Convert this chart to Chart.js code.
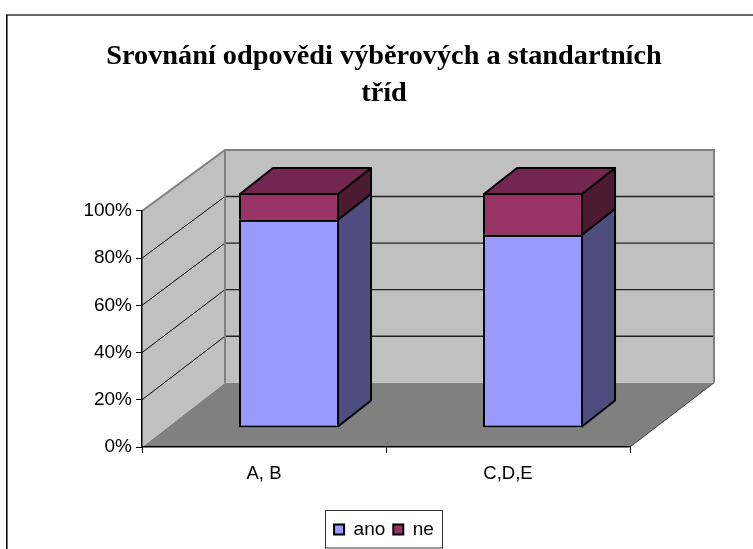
<!DOCTYPE html>
<html>
<head>
<meta charset="utf-8">
<script src="https://cdn.jsdelivr.net/npm/chart.js@4"></script>
<style>html,body{margin:0;padding:0;background:#fff}canvas{display:block}</style>
</head>
<body>
<canvas id="c" width="753" height="549"></canvas>
<script>
const categories = ['A, B', 'C,D,E'];
const anoValues = [88.6, 82.2];
const neValues = [11.4, 17.8];
const titleLines = ['Srovnání odpovědi výběrových a standartních', 'tříd'];

const WALL_DX = 83, WALL_DY = 64.2, WALL_SCALE = 0.9865;
const BAR_DX = 25, BAR_DY = 19.5, SIDE_DX = 33, SIDE_DY = 26;
const sideColors = ['#4D4D80', '#4D1A33'];
const topColor = '#732650';

function poly(ctx, pts, fill, stroke, lw) {
  ctx.beginPath();
  pts.forEach((p, i) => i ? ctx.lineTo(p[0], p[1]) : ctx.moveTo(p[0], p[1]));
  ctx.closePath();
  if (fill) { ctx.fillStyle = fill; ctx.fill(); }
  if (stroke) { ctx.strokeStyle = stroke; ctx.lineWidth = lw; ctx.lineJoin = 'round'; ctx.stroke(); }
}

const scene = {
  id: 'scene',
  beforeDraw(chart) {
    const ctx = chart.ctx, a = chart.chartArea, y = chart.scales.y;
    ctx.save();
    ctx.fillStyle = '#fff';
    ctx.fillRect(0, 0, chart.width, chart.height);
    ctx.lineWidth = 1.5;
    ctx.strokeStyle = '#333';
    ctx.beginPath();
    ctx.moveTo(6, 15);
    ctx.lineTo(chart.width + 1, 15);
    ctx.stroke();
    ctx.strokeStyle = '#000';
    ctx.beginPath();
    ctx.moveTo(6.8, chart.height + 1);
    ctx.lineTo(6.8, 15);
    ctx.stroke();

    const y0 = y.getPixelForValue(0), y1 = y.getPixelForValue(100);
    const backY = v => y0 - WALL_DY - (y0 - y.getPixelForValue(v)) * WALL_SCALE;
    const bl = a.left + WALL_DX, br = a.right + WALL_DX + 1;
    // floor
    poly(ctx, [[a.left, y0], [a.right, y0], [br, backY(0)], [bl, backY(0)]], '#808080');
    ctx.strokeStyle = '#404040'; ctx.lineWidth = 1;
    ctx.beginPath(); ctx.moveTo(a.right, y0); ctx.lineTo(br, backY(0)); ctx.stroke();
    // walls
    poly(ctx, [[a.left, y1], [bl, backY(100)], [bl, backY(0)], [a.left, y0]], '#C0C0C0');
    poly(ctx, [[bl, backY(100)], [br, backY(100)], [br, backY(0)], [bl, backY(0)]], '#C0C0C0');
    // gridlines
    y.ticks.forEach(t => {
      if (t.value === 0 || t.value === 100) return;
      const fy = y.getPixelForValue(t.value), by = backY(t.value);
      ctx.strokeStyle = '#000'; ctx.lineWidth = 1;
      ctx.beginPath(); ctx.moveTo(a.left, fy); ctx.lineTo(bl, by); ctx.stroke();
      ctx.strokeStyle = '#222'; ctx.lineWidth = 1.4;
      ctx.beginPath(); ctx.moveTo(bl, by); ctx.lineTo(br - 1, by); ctx.stroke();
    });
    // wall outlines
    ctx.strokeStyle = '#808080'; ctx.lineWidth = 2;
    ctx.beginPath();
    ctx.moveTo(a.left, y1); ctx.lineTo(bl, backY(100)); ctx.lineTo(br, backY(100)); ctx.lineTo(br, backY(0));
    ctx.moveTo(bl, backY(100)); ctx.lineTo(bl, backY(0));
    ctx.stroke();
    ctx.restore();
  },
  beforeDatasetsDraw(chart) {
    const ctx = chart.ctx;
    ctx.save();
    ctx.translate(BAR_DX, -BAR_DY);
    const metas = [chart.getDatasetMeta(0), chart.getDatasetMeta(1)];
    metas.forEach((m, i) => {
      m.data.forEach(el => {
        const p = el.getProps(['x', 'y', 'base', 'width'], true);
        const r = p.x + p.width / 2 - 1, top = p.y + (i === 1 ? 1 : 0), base = p.base - (i === 0 ? 1 : 0);
        poly(ctx, [[r, top], [r + SIDE_DX, top - SIDE_DY], [r + SIDE_DX, base - SIDE_DY], [r, base]], sideColors[i], '#000', 2);
        if (i === 1) {
          const l = p.x - p.width / 2 + 1;
          poly(ctx, [[l, top], [l + SIDE_DX, top - SIDE_DY], [r + SIDE_DX, top - SIDE_DY], [r, top]], topColor, '#000', 2);
        }
      });
    });
  },
  afterDatasetsDraw(chart) {
    const ctx = chart.ctx;
    // divider between the two stacked segments on the front face
    chart.getDatasetMeta(0).data.forEach(el => {
      const p = el.getProps(['x', 'y', 'width'], true);
      ctx.strokeStyle = '#000'; ctx.lineWidth = 2;
      ctx.beginPath();
      ctx.moveTo(p.x - p.width / 2, p.y + 1);
      ctx.lineTo(p.x + p.width / 2, p.y + 1);
      ctx.stroke();
    });
    ctx.restore();
  },
  afterDraw(chart) {
    const ctx = chart.ctx;
    ctx.save();
    ctx.strokeStyle = '#333'; ctx.lineWidth = 1;
    ctx.strokeRect(325.5, 510.5, 117, 37.5);
    ctx.restore();
  }
};

new Chart(document.getElementById('c'), {
  type: 'bar',
  data: {
    labels: categories,
    datasets: [
      { label: 'ano', data: anoValues, backgroundColor: '#9999FF', borderColor: '#000', borderWidth: 2, borderSkipped: false, yAxisID: 'yBar', stack: 's' },
      { label: 'ne', data: neValues, backgroundColor: '#993366', borderColor: '#000', borderWidth: 2, borderSkipped: 'bottom', yAxisID: 'yBar', stack: 's' }
    ]
  },
  plugins: [scene],
  options: {
    responsive: false,
    animation: false,
    devicePixelRatio: 1,
    layout: { padding: { left: 80, right: 65, top: 0, bottom: 0 } },
    barPercentage: 0.41,
    categoryPercentage: 1,
    scales: {
      x: {
        stacked: true,
        afterFit(s) { s.height = 65; },
        grid: { drawOnChartArea: false, color: '#000', tickLength: 6, offset: true },
        border: { color: '#000', width: 1.5 },
        ticks: { color: '#000', font: { family: 'Liberation Sans', size: 18.5 }, padding: 10 }
      },
      y: {
        min: 0, max: 100,
        afterFit(s) { s.width = 62; },
        ticks: { stepSize: 20, callback: v => v + '%', color: '#000', font: { family: 'Liberation Sans', size: 19 }, padding: 4 },
        grid: { drawOnChartArea: false, color: '#000', tickLength: 6 },
        border: { color: '#000', width: 1.5 }
      },
      yBar: {
        position: 'right',
        stacked: true, min: 0, max: 100.64,
        afterFit(s) { s.width = 58; },
        ticks: { display: false },
        grid: { display: false },
        border: { display: false }
      }
    },
    plugins: {
      tooltip: { enabled: false },
      title: {
        display: true,
        text: titleLines,
        color: '#000',
        font: { family: 'Liberation Serif', size: 28.3, weight: 'bold', lineHeight: 1.307 },
        padding: { top: 38, bottom: 99 }
      },
      legend: {
        position: 'bottom',
        labels: {
          color: '#000',
          font: { family: 'Liberation Sans', size: 19 },
          boxWidth: 10, boxHeight: 10, padding: 8
        }
      }
    }
  }
});
</script>
</body>
</html>
